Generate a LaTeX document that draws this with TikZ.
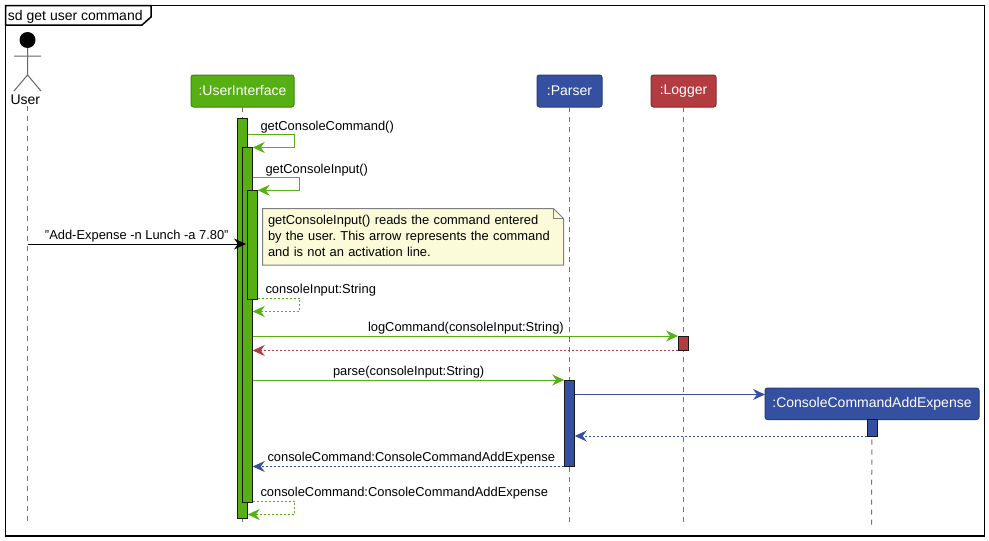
\documentclass[tikz,border=0pt]{standalone}
\usepackage{fontspec}
\setmainfont{Liberation Sans}
\usetikzlibrary{arrows.meta,calc}
\definecolor{uigreen}{HTML}{56B013}
\definecolor{pblue}{HTML}{3550A1}
\definecolor{lred}{HTML}{B33C40}
\definecolor{notefill}{HTML}{FBFBD9}
\frenchspacing
\tikzset{
  x=1pt,y=-1pt,
  every node/.style={inner sep=0pt,outer sep=0pt},
  lbl/.style={anchor=base west,font=\fontsize{12.9pt}{15pt}\selectfont,text=black},
  part/.style={draw=#1!75!black,fill=#1,rounded corners=2.5pt,line width=1pt,text=white,
    font=\fontsize{14pt}{16pt}\selectfont,minimum height=32pt,anchor=north west},
  life/.style={draw=black!55,line width=1pt,dash pattern=on 5pt off 5pt},
  activ/.style={draw=black!90,fill=#1,line width=1pt,minimum width=10.5pt,anchor=north west},
  msg/.style={draw=#1,line width=1pt,-{Stealth[length=12pt,width=11pt,inset=4pt,fill=#1]}},
  ret/.style={msg=#1,dash pattern=on 2pt off 2pt},
}
\begin{document}
\begin{tikzpicture}
\useasboundingbox (0,0) rectangle (989,541);
\fill[white] (0,0) rectangle (989,541);
% frame
\draw[line width=1.5pt,black] (5.5,5.5) rectangle (984.5,536);
\draw[line width=1.5pt,black,fill=white] (5.5,5.5) -- (151,5.5) -- (151,17) -- (142,25) -- (5.5,25) -- cycle;
\node[lbl,font=\fontsize{14pt}{16pt}\selectfont] (title) at (8,20) {sd get user command};
% actor
\node[circle,fill=black,minimum size=16pt] (head) at (27.5,40) {};
\draw[black!60,line width=1pt] (head.south) -- (27.5,75) -- (14,91) (27.5,75) -- (41,91) (14,56) -- (41,56);
\node[lbl,font=\fontsize{14pt}{16pt}\selectfont] (user) at (10.5,104.5) {User};
% participants
\node[part=uigreen,minimum width=103pt] (ui) at (191,75) {:UserInterface};
\node[part=pblue,minimum width=65pt] (parser) at (537,75) {:Parser};
\node[part=lred,minimum width=65pt] (logger) at (651,75) {:Logger};
% lifeline ends
\coordinate (userend) at (27.5,523);
\coordinate (uiend) at (242.5,523);
\coordinate (parserend) at (569.5,523);
\coordinate (loggerend) at (683.5,523);
\coordinate (cmdend) at (871.5,525);
\coordinate (userstart) at (27.5,106);
\draw[life] (userstart) -- (userend);
\draw[life] (ui.south) -- (uiend);
\draw[life] (parser.south) -- (parserend);
\draw[life] (logger.south) -- (loggerend);
% created participant
\node[part=pblue,minimum width=214pt,minimum height=31.5pt] (cmd) at (765,388) {:ConsoleCommandAddExpense};
\draw[life] (cmd.south) -- (cmdend);
% activations
\node[activ=uigreen,minimum height=400pt] (a1) at (237.25,118) {};
\node[activ=uigreen,minimum height=355pt] (a2) at (242.25,147.5) {};
\node[activ=uigreen,minimum height=109pt] (a3) at (247.25,190.3) {};
\node[activ=lred,minimum height=14.5pt] (al) at (678,336) {};
\node[activ=pblue,minimum height=86.5pt] (ap) at (564.25,380) {};
\node[activ=pblue,minimum height=17pt] (ac) at (867,419.5) {};
% messages
\coordinate (m1) at (0,134.5);
\coordinate (m2) at (0,177);
\coordinate (m3) at (0,244);
\coordinate (m3e) at (246,244);
\coordinate (m4) at (0,298);
\coordinate (m4b) at (0,311.5);
\coordinate (m5) at (0,336);
\coordinate (m6) at (0,350.5);
\coordinate (m7) at (0,380);
\coordinate (m8) at (0,394.5);
\coordinate (m9) at (0,436);
\coordinate (m10) at (0,466.5);
\coordinate (m11) at (0,501);
\coordinate (m11b) at (0,514.5);
\draw[msg=uigreen] (a1.east |- m1) -- ++(47,0) |- (a2.north east);
\draw[msg=uigreen] (a2.east |- m2) -- ++(47,0) |- (a3.north east);
\draw[msg=black] (userstart |- m3) -- (m3e);
\draw[ret=uigreen] (a3.east |- m4) -- ++(42,0) |- (a2.east |- m4b);
\draw[msg=uigreen] (a2.east |- m5) -- (al.west |- m5);
\draw[ret=lred] (al.west |- m6) -- (a2.east |- m6);
\draw[msg=uigreen] (a2.east |- m7) -- (ap.west |- m7);
\draw[msg=pblue] (ap.east |- m8) -- (cmd.west |- m8);
\draw[ret=pblue] (ac.west |- m9) -- (ap.east |- m9);
\draw[ret=pblue] (ap.west |- m10) -- (a2.east |- m10);
\draw[ret=uigreen] (a2.east |- m11) -- ++(42,0) |- (a1.east |- m11b);
% note
\coordinate (nnw) at (262.5,208.5);
\coordinate (nse) at (563.5,265);
\draw[draw=black!50,fill=notefill,line width=1pt]
  (nnw) -- ($(nnw -| nse)+(-10,0)$) -- ($(nnw -| nse)+(0,10)$) -- (nse) -- (nnw |- nse) -- cycle;
\draw[draw=black!50,line width=1pt] ($(nnw -| nse)+(-10,0)$) -- ($(nnw -| nse)+(-10,10)$) -- ($(nnw -| nse)+(0,10)$);
\node[text width=295pt,align=left,anchor=north west,font=\fontsize{12.9pt}{16pt}\selectfont] (note) at (268,215.5)
  {getConsoleInput() reads the command entered\\by the user. This arrow represents the command\\and is not an activation line.};
% labels
\node[lbl] (l1) at (260.5,130) {getConsoleCommand()};
\node[lbl] (l2) at (265.5,173.5) {getConsoleInput()};
\node[lbl] (l3) at (45,239) {\symbol{34}Add-Expense -n Lunch -a 7.80\symbol{34}};
\node[lbl] (l4) at (265.5,293) {consoleInput:String};
\node[lbl] (l5) at (368,331) {logCommand(consoleInput:String)};
\node[lbl] (l6) at (333,375) {parse(consoleInput:String)};
\node[lbl] (l7) at (267.5,461) {consoleCommand:ConsoleCommandAddExpense};
\node[lbl] (l8) at (260.5,496) {consoleCommand:ConsoleCommandAddExpense};
\end{tikzpicture}
\end{document}
